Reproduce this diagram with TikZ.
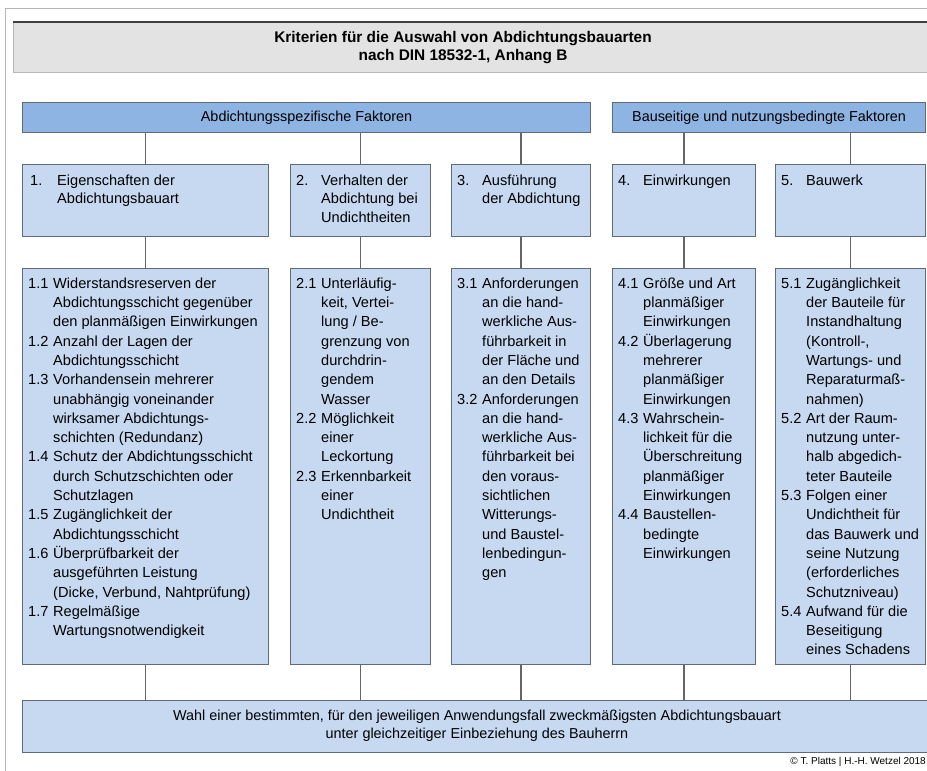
\documentclass[tikz,border=0pt]{standalone}
\usepackage{fontspec}
\setmainfont{Liberation Sans}
\usepackage{array}
\definecolor{boxblue}{HTML}{C6D9F1}
\definecolor{hdrblue}{HTML}{8EB4E3}
\definecolor{boxline}{HTML}{5F6B78}
\definecolor{connline}{HTML}{666666}
\definecolor{titlegray}{HTML}{E3E3E3}
\definecolor{framegray}{HTML}{B5B5B5}
\newcommand{\itemtab}[1]{\begin{tabular}{@{}p{25pt}@{}l@{}}#1\end{tabular}}
\newcommand{\itemtabw}[1]{\begin{tabular}{@{}p{27pt}@{}l@{}}#1\end{tabular}}
\begin{document}
\begin{tikzpicture}[x=1pt,y=-1pt,
  box/.style={draw=boxline, fill=boxblue, line width=1.1pt, anchor=north west, inner sep=0pt},
  hdr/.style={draw=boxline, fill=hdrblue, line width=1.1pt, anchor=north west, inner sep=0pt},
  conn/.style={draw=connline, line width=1.3pt},
  txt/.style={anchor=north west, inner sep=0pt, font=\fontsize{14.6}{19.3}\selectfont},
  txttwo/.style={anchor=north west, inner sep=0pt, font=\fontsize{14.6}{18.5}\selectfont},
  hdrtxt/.style={inner sep=0pt, font=\fontsize{14.4}{18}\selectfont}]
\useasboundingbox (0,0) rectangle (927,771);
\clip (0,0) rectangle (927,771);
\fill[white] (0,0) rectangle (927,771);
% outer frame
\draw[framegray, line width=1pt] (5,775) -- (5,8) -- (935,8);
% title
\node[draw=gray!55, fill=titlegray, line width=1pt, anchor=north west, inner sep=0pt,
      minimum width=930pt, minimum height=50pt] (title) at (13,22) {};
\draw[black!75, line width=1.6pt] (title.north west) -- (title.north east);
\node[inner sep=0pt, align=center, font=\fontsize{15.4}{18}\selectfont\bfseries] (titletxt) at (463,48)
  {Kriterien für die Auswahl von Abdichtungsbauarten\\nach DIN 18532-1, Anhang B};
% header bars
\node[hdr, minimum width=568pt, minimum height=30pt] (h1) at (22,102) {};
\node[hdrtxt] (h1t) at (h1.center) {Abdichtungsspezifische Faktoren};
\node[hdr, minimum width=313pt, minimum height=30pt] (h2) at (612,102) {};
\node[hdrtxt] (h2t) at (h2.center) {Bauseitige und nutzungsbedingte Faktoren};
% level 2 boxes
\node[box, minimum width=246pt, minimum height=72pt] (a2) at (22,164) {};
\node[box, minimum width=140pt, minimum height=72pt] (b2) at (290,164) {};
\node[box, minimum width=139pt, minimum height=72pt] (c2) at (451,164) {};
\node[box, minimum width=143pt, minimum height=72pt] (d2) at (612,164) {};
\node[box, minimum width=150pt, minimum height=72pt] (e2) at (775,164) {};
% level 3 boxes
\node[box, minimum width=246pt, minimum height=396pt] (a3) at (22,268) {};
\node[box, minimum width=140pt, minimum height=396pt] (b3) at (290,268) {};
\node[box, minimum width=139pt, minimum height=396pt] (c3) at (451,268) {};
\node[box, minimum width=143pt, minimum height=396pt] (d3) at (612,268) {};
\node[box, minimum width=150pt, minimum height=396pt] (e3) at (775,268) {};
% bottom box
\node[box, minimum width=915pt, minimum height=52pt] (bot) at (22,700) {};
\node[inner sep=0pt, align=center, font=\fontsize{14.4}{18}\selectfont] (bott) at (477,726)
  {Wahl einer bestimmten, für den jeweiligen Anwendungsfall zweckmäßigsten Abdichtungsbauart\\unter gleichzeitiger Einbeziehung des Bauherrn};
% connectors
\foreach \n/\h in {a/h1,b/h1,c/h1,d/h2,e/h2}{
  \draw[conn] (\n2.north) -- (\n2.north |- \h.south);
  \draw[conn] (\n2.south) -- (\n3.north);
  \draw[conn] (\n3.south) -- (\n3.south |- bot.north);
}
% level 2 texts
\node[txttwo, xshift=8pt, yshift=-8pt] (a2t) at (a2.north west)
  {\itemtabw{1. & Eigenschaften der\\ & Abdichtungsbauart}};
\node[txttwo, xshift=6pt, yshift=-8pt] (b2t) at (b2.north west)
  {\itemtab{2. & Verhalten der\\ & Abdichtung bei\\ & Undichtheiten}};
\node[txttwo, xshift=6pt, yshift=-8pt] (c2t) at (c2.north west)
  {\itemtab{3. & Ausführung\\ & der Abdichtung}};
\node[txttwo, xshift=6pt, yshift=-8pt] (d2t) at (d2.north west)
  {\itemtab{4. & Einwirkungen}};
\node[txttwo, xshift=6pt, yshift=-8pt] (e2t) at (e2.north west)
  {\itemtab{5. & Bauwerk}};
% level 3 texts
\node[txt, xshift=6pt, yshift=-6.5pt] (a3t) at (a3.north west)
  {\itemtab{1.1 & Widerstandsreserven der\\
   & Abdichtungsschicht gegenüber\\
   & den planmäßigen Einwirkungen\\
   1.2 & Anzahl der Lagen der\\
   & Abdichtungsschicht\\
   1.3 & Vorhandensein mehrerer\\
   & unabhängig voneinander\\
   & wirksamer Abdichtungs-\\
   & schichten (Redundanz)\\
   1.4 & Schutz der Abdichtungsschicht\\
   & durch Schutzschichten oder\\
   & Schutzlagen\\
   1.5 & Zugänglichkeit der\\
   & Abdichtungsschicht\\
   1.6 & Überprüfbarkeit der\\
   & ausgeführten Leistung\\
   & (Dicke, Verbund, Nahtprüfung)\\
   1.7 & Regelmäßige\\
   & Wartungsnotwendigkeit}};
\node[txt, xshift=6pt, yshift=-6.5pt] (b3t) at (b3.north west)
  {\itemtab{2.1 & Unterläufig-\\
   & keit, Vertei-\\
   & lung / Be-\\
   & grenzung von\\
   & durchdrin-\\
   & gendem\\
   & Wasser\\
   2.2 & Möglichkeit\\
   & einer\\
   & Leckortung\\
   2.3 & Erkennbarkeit\\
   & einer\\
   & Undichtheit}};
\node[txt, xshift=6pt, yshift=-6.5pt] (c3t) at (c3.north west)
  {\itemtab{3.1 & Anforderungen\\
   & an die hand-\\
   & werkliche Aus-\\
   & führbarkeit in\\
   & der Fläche und\\
   & an den Details\\
   3.2 & Anforderungen\\
   & an die hand-\\
   & werkliche Aus-\\
   & führbarkeit bei\\
   & den voraus-\\
   & sichtlichen\\
   & Witterungs-\\
   & und Baustel-\\
   & lenbedingun-\\
   & gen}};
\node[txt, xshift=6pt, yshift=-6.5pt] (d3t) at (d3.north west)
  {\itemtab{4.1 & Größe und Art\\
   & planmäßiger\\
   & Einwirkungen\\
   4.2 & Überlagerung\\
   & mehrerer\\
   & planmäßiger\\
   & Einwirkungen\\
   4.3 & Wahrschein-\\
   & lichkeit für die\\
   & Überschreitung\\
   & planmäßiger\\
   & Einwirkungen\\
   4.4 & Baustellen-\\
   & bedingte\\
   & Einwirkungen}};
\node[txt, xshift=6pt, yshift=-6.5pt] (e3t) at (e3.north west)
  {\itemtab{5.1 & Zugänglichkeit\\
   & der Bauteile für\\
   & Instandhaltung\\
   & (Kontroll-,\\
   & Wartungs- und\\
   & Reparaturmaß-\\
   & nahmen)\\
   5.2 & Art der Raum-\\
   & nutzung unter-\\
   & halb abgedich-\\
   & teter Bauteile\\
   5.3 & Folgen einer\\
   & Undichtheit für\\
   & das Bauwerk und\\
   & seine Nutzung\\
   & (erforderliches\\
   & Schutzniveau)\\
   5.4 & Aufwand für die\\
   & Beseitigung\\
   & eines Schadens}};
% copyright
\node[anchor=south east, inner sep=0pt, font=\fontsize{10}{12}\selectfont] (copy) at (926,767)
  {© T. Platts | H.-H. Wetzel 2018};
\end{tikzpicture}
\end{document}
